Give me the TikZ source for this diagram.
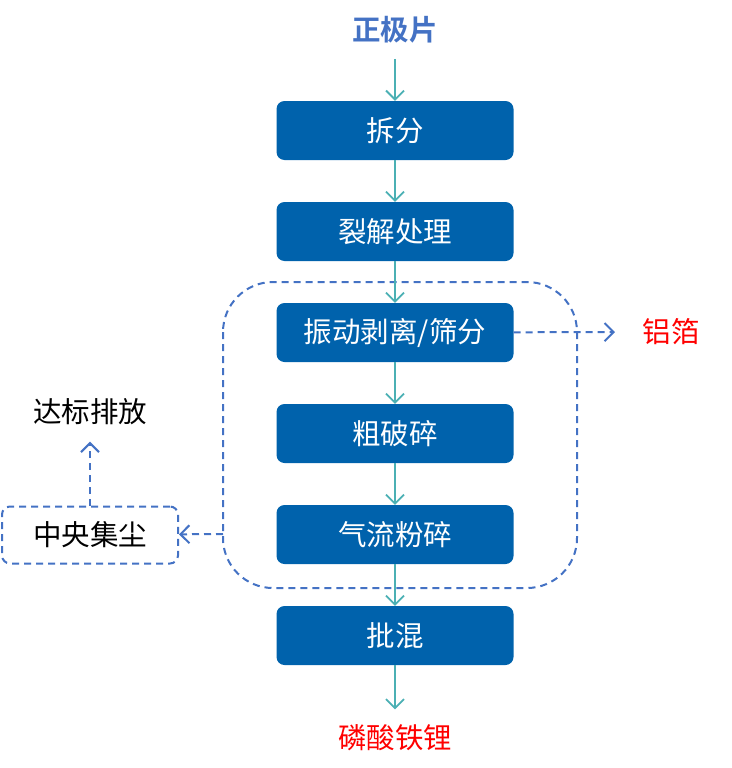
\documentclass[tikz,border=0pt]{standalone}
\usepackage{fontspec}
\setmainfont{Noto Sans CJK SC}[BoldFont={Noto Sans CJK SC Bold}]
\usetikzlibrary{arrows.meta}
\definecolor{boxblue}{RGB}{0,98,172}
\definecolor{lineteal}{RGB}{75,176,180}
\definecolor{dashblue}{RGB}{68,114,196}
\definecolor{outred}{RGB}{255,0,0}
\tikzset{
  stepbox/.style={rectangle,rounded corners=8pt,fill=boxblue,text=white,minimum width=237pt,minimum height=59pt,inner sep=0},
  flow/.style={draw=lineteal,line width=1.8pt,-{Straight Barb[length=9pt,width=18pt,line width=1.8pt]}},
  dashline/.style={draw=dashblue,line width=2pt,dash pattern=on 7pt off 5pt},
  dasharrow/.style={dashline,-{Straight Barb[length=9pt,width=18pt,line width=2pt]}}
}
\begin{document}
\begin{tikzpicture}[x=1pt,y=-1pt,font=\fontsize{28.5pt}{31pt}\selectfont]
\useasboundingbox (0,0) rectangle (731,768);
\draw [dashline,rounded corners=50pt] (223,282) rectangle (577,588);

\node (src) at (395,30) {\color{dashblue}\bfseries 正极片};
\node (s1) [stepbox] at (395,130.5) {拆分};
\node (s2) [stepbox] at (395,231.5) {裂解处理};
\node (s3) [stepbox] at (395,332.5) {振动剥离/筛分};
\node (s4) [stepbox] at (395,433.5) {粗破碎};
\node (s5) [stepbox] at (395,534.5) {气流粉碎};
\node (s6) [stepbox] at (395,635.5) {批混};
\node (lfp) at (395,738) {\color{outred}磷酸铁锂};
\node (foil) at (671,332) {\color{outred}铝箔};
\node (dust) [dashline,rounded corners=8pt,minimum width=176pt,minimum height=57pt] at (90,535) {中央集尘};
\node (emit) at (90,412) {达标排放};
\coordinate (exit) at (223,534);

\draw [flow,shorten <=12pt] (src) -- (s1);
\draw [flow] (s1) -- (s2); \draw [flow] (s2) -- (s3); \draw [flow] (s3) -- (s4);
\draw [flow] (s4) -- (s5); \draw [flow] (s5) -- (s6);
\draw [flow,shorten >=12pt] (s6) -- (lfp);
\draw [dasharrow,shorten >=24pt] (s3) -- (foil);
\draw [dasharrow] (exit) -- (dust);
\draw [dasharrow,shorten >=13pt] (dust) -- (emit);
\end{tikzpicture}
\end{document}
